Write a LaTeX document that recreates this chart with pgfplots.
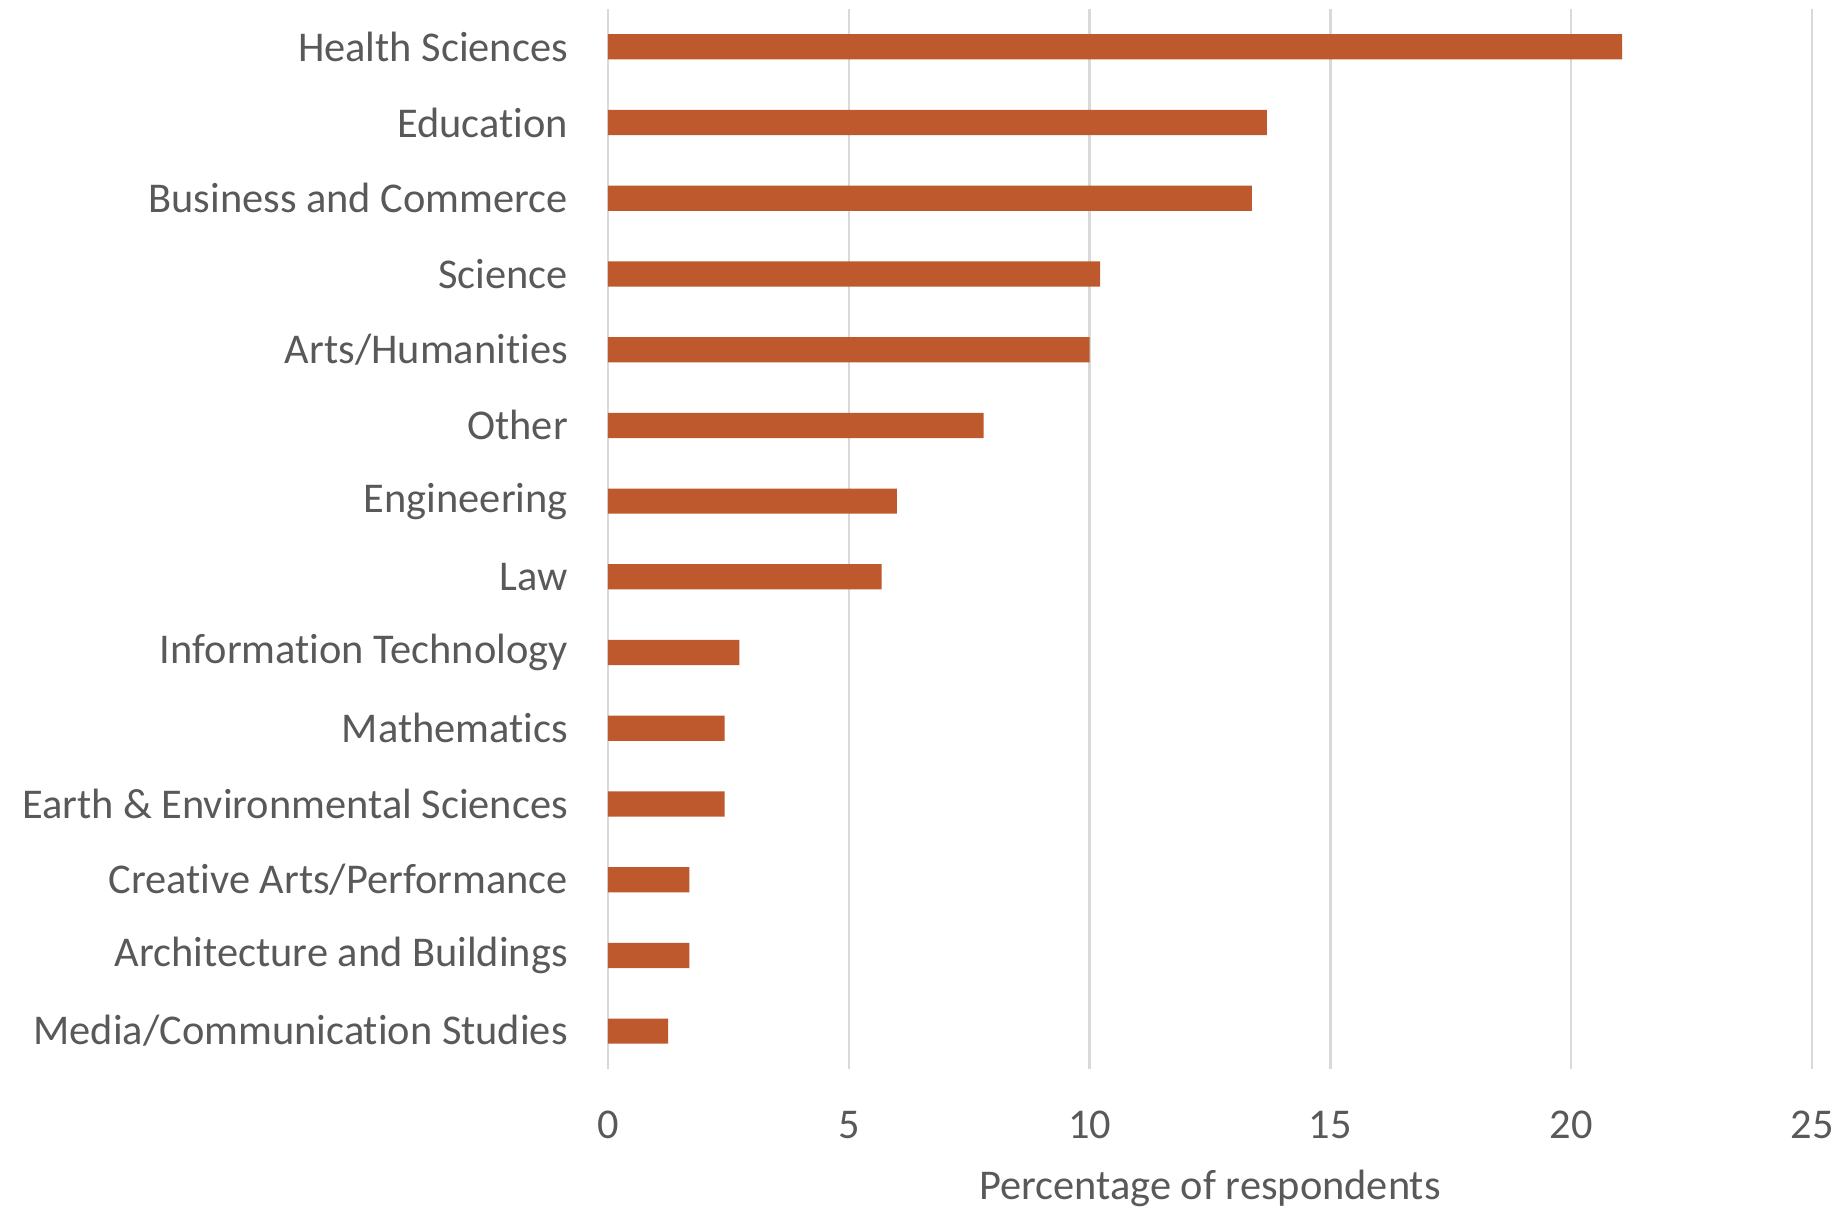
\documentclass[border=0pt]{standalone}
\usepackage{pgfplots}
\pgfplotsset{compat=1.18}
\usepackage{fontspec}
\setmainfont{Carlito}[Ligatures={NoCommon}]
\definecolor{barc}{RGB}{190,89,45}
\definecolor{txt}{RGB}{89,89,89}
\definecolor{gridc}{RGB}{217,217,217}
\begin{document}
\begin{tikzpicture}[x=1pt,y=1pt]
\begin{axis}[
  scale only axis,
  width=301pt, height=265pt,
  xbar, bar width=6.3pt,
  xmin=0, xmax=25,
  ymin=-0.5, ymax=13.5,
  xtick={0,5,10,15,20,25},
  ytick={0,...,13},
  yticklabels={Media/Communication Studies,Architecture and Buildings,Creative Arts/Performance,Earth \& Environmental Sciences,Mathematics,Information Technology,Law,Engineering,Other,Arts/Humanities,Science,Business and Commerce,Education,Health Sciences},
  xmajorgrids, grid style={gridc, line width=0.6pt},
  axis line style={draw=none},
  major tick length=0pt,
  tick label style={font=\fontsize{10.6}{12}\selectfont, text=txt},
  /pgf/number format/assume math mode=true,
  xticklabel style={yshift=-7pt},
  yticklabel style={xshift=-6.5pt},
  xlabel={Percentage of respondents},
  xlabel style={font=\fontsize{10.6}{12}\selectfont, text=txt, yshift=-1pt},
]
\addplot[fill=barc, draw=none] coordinates {
(1.25,0) (1.69,1) (1.69,2) (2.42,3) (2.42,4) (2.73,5) (5.68,6) (6.00,7) (7.80,8) (10.00,9) (10.22,10) (13.37,11) (13.68,12) (21.06,13)
};
\end{axis}
\pgfresetboundingbox
\path (current axis.south west) ++(-152pt,-34.75pt) rectangle ++(460.75pt,302pt);
\end{tikzpicture}
\end{document}
